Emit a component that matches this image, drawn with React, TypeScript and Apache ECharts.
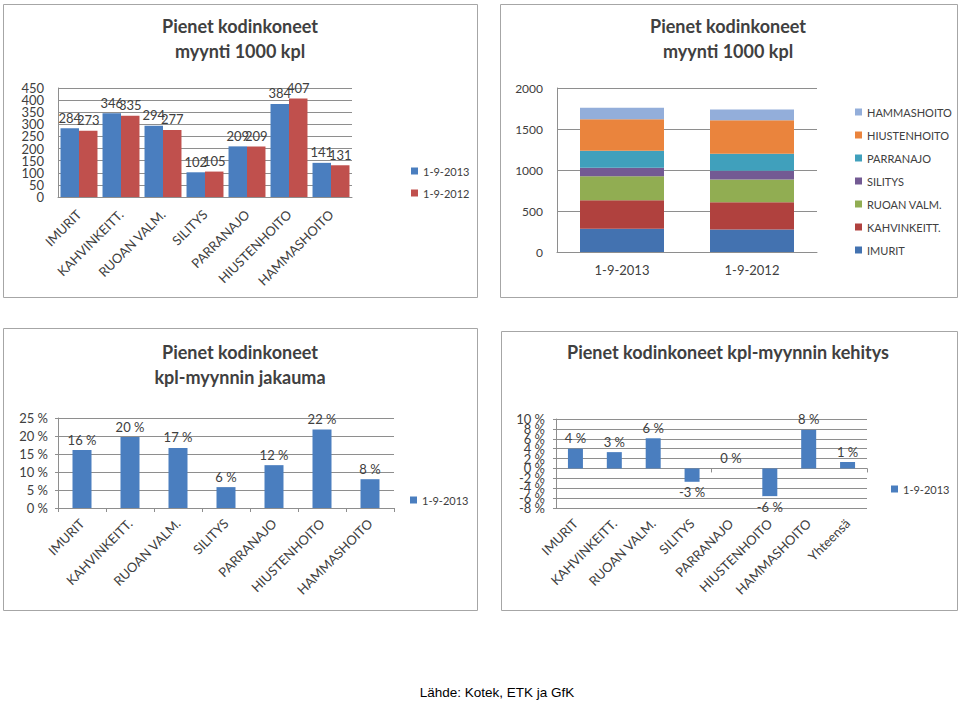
import React, { useEffect, useRef } from "react";
import * as echarts from "echarts";

const categories = ["IMURIT", "KAHVINKEITT.", "RUOAN VALM.", "SILITYS", "PARRANAJO", "HIUSTENHOITO", "HAMMASHOITO"];
const changeCategories = ["IMURIT", "KAHVINKEITT.", "RUOAN VALM.", "SILITYS", "PARRANAJO", "HIUSTENHOITO", "HAMMASHOITO", "Yhteensä"];
const periods = ["1-9-2013", "1-9-2012"];
const sales2013 = [284, 346, 294, 102, 209, 384, 141];
const sales2012 = [273, 335, 277, 105, 209, 407, 131];
const share2013 = [16.1, 19.7, 16.7, 5.8, 11.9, 21.8, 8.0];
const change2013 = [4.0, 3.3, 6.1, -2.7, 0, -5.6, 7.8, 1.3];
const salesTicks = ["0", "50", "100", "150", "200", "250", "300", "350", "400", "450"];
const stackColors = ["#4372B0", "#B0413E", "#91AD52", "#735A93", "#40A0BC", "#EA843D", "#93AEDA"];
const sourceText = "Lähde: Kotek, ETK ja GfK";

const FONT = "Lato";
const TXT = "#404040";
const GRIDC = "#8E8E8E";
const BLUE = "#4A7EBF";
const RED = "#C0504D";

export default function App() {
  const ref = useRef<HTMLDivElement>(null);
  useEffect(() => {
    if (!ref.current) return;
    const chart = echarts.init(ref.current, undefined, { renderer: "svg" });

    const catLabel = (margin: number) => ({
      rotate: 45,
      interval: 0,
      color: TXT,
      fontFamily: FONT,
      fontSize: 13,
      margin,
    });
    const valLabel = (size: number, margin: number, lineHeight: number, fmt?: any) => ({
      color: TXT,
      fontFamily: FONT,
      fontSize: size,
      lineHeight,
      margin,
      hideOverlap: false,
      showMinLabel: true,
      showMaxLabel: true,
      formatter: fmt || ((v: number) => String(v)),
    });
    const lineStyle = { color: GRIDC, width: 1 };
    const dataLabel = {
      show: true,
      position: "top",
      color: TXT,
      fontFamily: FONT,
      fontSize: 13,
      distance: 4,
    };

    const titleText = (x: number, y: number, text: string) => ({
      type: "text",
      x,
      y,
      style: {
        text,
        align: "center",
        verticalAlign: "top",
        fontFamily: FONT,
        fontWeight: "bold",
        fontSize: 18,
        lineHeight: 25,
        fill: TXT,
      },
    });
    const border = (x1: number, y1: number, x2: number, y2: number) => ({
      type: "rect",
      shape: { x: x1 + 0.5, y: y1 + 0.5, width: x2 - x1, height: y2 - y1 },
      style: { fill: "none", stroke: "#A6A6A6", lineWidth: 1 },
      silent: true,
    });

    const legendBase = {
      orient: "vertical",
      padding: 0,
      itemWidth: 7,
      itemHeight: 7,
      icon: "rect",
      textStyle: { color: TXT, fontFamily: FONT, fontSize: 11, lineHeight: 14 },
    };

    const changeFmt = (keepEven: boolean) => (v: number, i: number) =>
      (i % 2 === 0) === keepEven ? v + " %" : "";

    const option: any = {
      animation: false,
      backgroundColor: "#ffffff",
      graphic: [
        border(3, 4, 477, 297),
        border(500, 4, 957, 297),
        border(3, 328, 477, 610),
        border(501, 331, 957, 610),
        titleText(240, 13, "Pienet kodinkoneet\nmyynti 1000 kpl"),
        titleText(728, 13, "Pienet kodinkoneet\nmyynti 1000 kpl"),
        titleText(240, 339, "Pienet kodinkoneet\nkpl-myynnin jakauma"),
        titleText(728, 339, "Pienet kodinkoneet kpl-myynnin kehitys"),
        {
          type: "text",
          x: 497,
          y: 692,
          style: {
            text: sourceText,
            align: "center",
            verticalAlign: "middle",
            fontFamily: "Liberation Sans",
            fontSize: 13.5,
            fill: "#000000",
          },
        },
      ],
      legend: [
        { ...legendBase, data: periods, left: 411, top: 164, itemGap: 8 },
        { ...legendBase, data: [...categories].reverse(), left: 855, top: 105, itemGap: 9 },
        { ...legendBase, data: [periods[0]], left: 410, top: 493 },
        { ...legendBase, data: [periods[0]], left: 891, top: 482 },
      ],
      grid: [
        { left: 58, top: 88, width: 294, height: 109 },
        { left: 557, top: 88, width: 260, height: 164 },
        { left: 58, top: 418, width: 336, height: 90 },
        { left: 556, top: 419, width: 311, height: 89 },
      ],
      xAxis: [
        {
          type: "category",
          gridIndex: 0,
          data: categories,
          axisLine: { lineStyle },
          axisTick: { show: false },
          axisLabel: catLabel(15),
        },
        {
          type: "category",
          gridIndex: 1,
          data: periods,
          axisLine: { lineStyle },
          axisTick: { show: false },
          axisLabel: { color: TXT, fontFamily: FONT, fontSize: 13, margin: 11 },
        },
        {
          type: "category",
          gridIndex: 2,
          data: categories,
          axisLine: { lineStyle },
          axisTick: { show: true, length: 4, lineStyle },
          axisLabel: catLabel(13),
        },
        {
          type: "category",
          gridIndex: 3,
          position: "bottom",
          data: changeCategories,
          axisLine: { show: false, onZero: false },
          axisTick: { show: false },
          axisLabel: catLabel(13),
        },
        {
          type: "category",
          gridIndex: 3,
          position: "top",
          data: changeCategories,
          axisLine: { show: true, onZero: true, lineStyle },
          axisTick: { show: true, inside: true, length: 4, lineStyle },
          axisLabel: { show: false },
        },
      ],
      yAxis: [
        {
          type: "value",
          gridIndex: 0,
          position: "left",
          min: 0,
          max: 450,
          interval: 50,
          axisLine: { show: true, lineStyle },
          axisTick: { show: false },
          splitLine: { lineStyle },
          axisLabel: { show: false },
        },
        {
          type: "value",
          gridIndex: 1,
          min: 0,
          max: 2000,
          interval: 500,
          axisLine: { show: true, lineStyle },
          axisTick: { show: false },
          splitLine: { lineStyle },
          axisLabel: valLabel(12, 14, 14),
        },
        {
          type: "value",
          gridIndex: 2,
          min: 0,
          max: 25,
          interval: 5,
          axisLine: { show: true, lineStyle },
          axisTick: { show: true, length: 3, lineStyle },
          splitLine: { lineStyle },
          axisLabel: valLabel(13, 10, 14, (v: number) => v + " %"),
        },
        {
          type: "value",
          gridIndex: 3,
          position: "left",
          min: -8,
          max: 10,
          interval: 2,
          axisLine: { show: true, lineStyle },
          axisTick: { show: true, length: 3, lineStyle },
          splitLine: { lineStyle },
          axisLabel: valLabel(13, 11, 13, changeFmt(true)),
        },
        {
          type: "category",
          gridIndex: 0,
          position: "left",
          data: salesTicks,
          boundaryGap: false,
          axisLine: { show: false },
          axisTick: { show: false },
          splitLine: { show: false },
          axisLabel: { interval: 0, color: TXT, fontFamily: FONT, fontSize: 13, margin: 14 },
        },
        {
          type: "value",
          gridIndex: 3,
          position: "left",
          min: -8,
          max: 10,
          interval: 2,
          axisLine: { show: false },
          axisTick: { show: false },
          splitLine: { show: false },
          axisLabel: valLabel(13, 11, 13, changeFmt(false)),
        },
      ],
      series: [
        {
          type: "bar",
          name: periods[0],
          xAxisIndex: 0,
          yAxisIndex: 0,
          data: sales2013,
          itemStyle: { color: BLUE },
          barGap: "0%",
          barCategoryGap: "12%",
          label: dataLabel,
        },
        {
          type: "bar",
          name: periods[1],
          xAxisIndex: 0,
          yAxisIndex: 0,
          data: sales2012,
          itemStyle: { color: RED },
          barGap: "0%",
          barCategoryGap: "12%",
          label: dataLabel,
        },
        ...categories.map((c, i) => ({
          type: "bar",
          name: c,
          xAxisIndex: 1,
          yAxisIndex: 1,
          stack: "total",
          barWidth: 84,
          data: [sales2013[i], sales2012[i]],
          itemStyle: { color: stackColors[i] },
        })),
        {
          type: "bar",
          name: periods[0],
          xAxisIndex: 2,
          yAxisIndex: 2,
          data: share2013,
          barWidth: 19,
          itemStyle: { color: BLUE },
          label: { ...dataLabel, formatter: (p: any) => Math.round(p.value) + " %" },
        },
        {
          type: "bar",
          name: periods[0],
          xAxisIndex: 3,
          yAxisIndex: 3,
          data: change2013.map((v) => ({
            value: v,
            label: { position: v < 0 ? "bottom" : "top" },
          })),
          barWidth: 15,
          itemStyle: { color: BLUE },
          label: { ...dataLabel, formatter: (p: any) => Math.round(p.value) + " %" },
        },
      ],
    };

    chart.setOption(option);
    return () => chart.dispose();
  }, []);

  return (
    <div
      ref={ref}
      style={{ position: "absolute", left: 0, top: 0, width: 960, height: 703, background: "#fff" }}
    />
  );
}
